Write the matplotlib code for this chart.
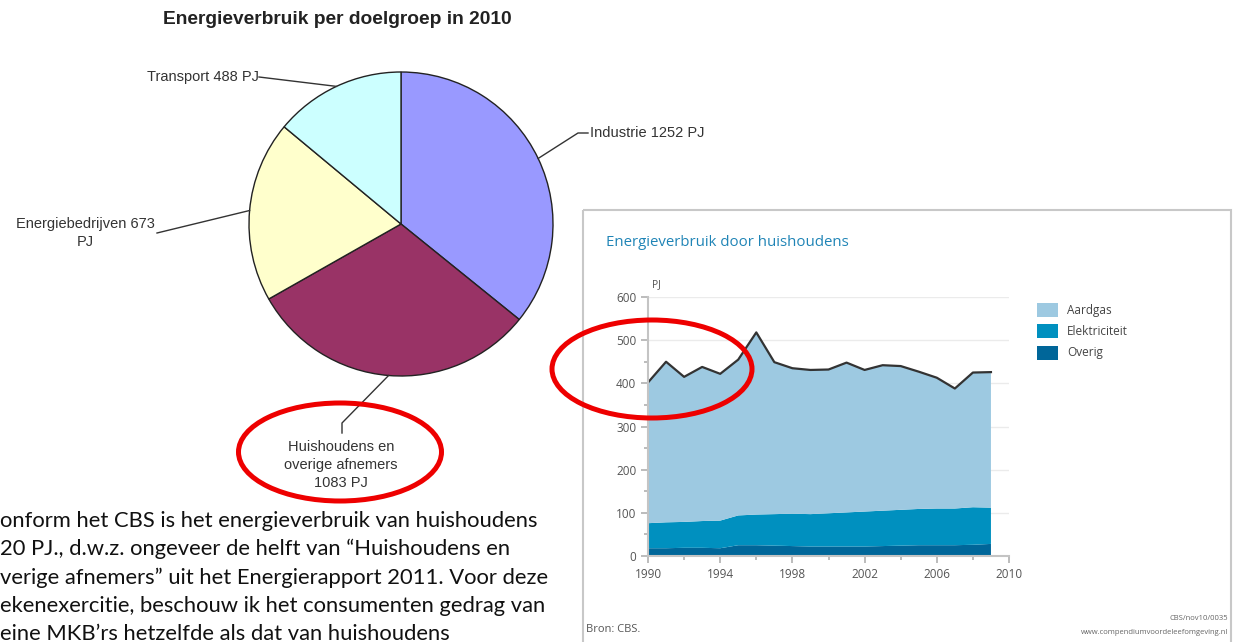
import numpy as np
import matplotlib
matplotlib.use("Agg")
import matplotlib.pyplot as plt
from matplotlib.patches import Ellipse, Rectangle

# --- pie data: energy use per target group, 2010 (PJ)
groepen = ["Industrie", "Huishoudens en\noverige afnemers", "Energiebedrijven", "Transport"]
pj_2010 = [1252, 1083, 673, 488]
pie_kleuren = ["#9999FF", "#993366", "#FFFFCC", "#CCFFFF"]

# --- area data: household energy use (PJ)
jaren = np.arange(1990, 2010)
aardgas = [326, 372, 336, 357, 340, 361, 422, 352, 337, 334, 333, 347, 328, 337, 333, 318, 303, 278, 312, 314]
elektriciteit = [58, 60, 60, 62, 64, 69, 71, 73, 75, 75, 77, 79, 81, 82, 83, 84, 85, 85, 87, 84]
overig = [18, 18, 19, 19, 18, 25, 25, 24, 23, 22, 22, 22, 22, 23, 24, 25, 25, 25, 26, 28]
area_kleuren = ["#006699", "#0090BF", "#9DC9E1"]
area_namen = ["Overig", "Elektriciteit", "Aardgas"]

body_regels = [
    "onform het CBS is het energieverbruik van huishoudens",
    "20 PJ., d.w.z. ongeveer de helft van \u201cHuishoudens en",
    "verige afnemers\u201d uit het Energierapport 2011. Voor deze",
    "ekenexercitie, beschouw ik het consumenten gedrag van",
    "eine MKB\u2019rs hetzelfde als dat van huishoudens",
]

W, H = 1235, 642
fig = plt.figure(figsize=(W / 100, H / 100), dpi=100)

# ---------------- pie ----------------
cx, cy, r = 401, 224, 152
ax_pie = fig.add_axes([(cx - r) / W, (H - cy - r) / H, 2 * r / W, 2 * r / H])
wedges, _ = ax_pie.pie(pj_2010, colors=pie_kleuren, startangle=90, counterclock=False,
                       wedgeprops=dict(edgecolor="#222222", linewidth=1.0))
ax_pie.set_xlim(-1, 1)
ax_pie.set_ylim(-1, 1)
ax_pie.set_aspect("equal")
ax_pie.axis("off")


def px2d(x, y):
    return (x - cx) / r, (cy - y) / r


# leader end points (pixel layout) for each wedge
leader_pts = [
    [(578, 133), (588, 133)],
    [(342, 423), (342, 433)],
    [(157, 233)],
    [(259, 77)],
]
for w, pts in zip(wedges, leader_pts):
    mid = np.deg2rad((w.theta1 + w.theta2) / 2)
    xs = [np.cos(mid)] + [px2d(*p)[0] for p in pts]
    ys = [np.sin(mid)] + [px2d(*p)[1] for p in pts]
    ax_pie.plot(xs, ys, color="#333333", lw=1.0, clip_on=False)

# ---------------- area chart ----------------
ax = fig.add_axes([648 / W, (H - 556) / H, 361 / W, 259 / H])
stack = ax.stackplot(jaren, overig, elektriciteit, aardgas, colors=area_kleuren,
                     labels=area_namen, linewidth=0)
totaal = np.array(overig) + np.array(elektriciteit) + np.array(aardgas)
ax.plot(jaren, totaal, color="#333333", lw=1.6)
ax.set_xlim(1990, 2010)
ax.set_ylim(0, 600)
ax.set_xticks(range(1990, 2011, 4))
ax.set_xticks(range(1992, 2010, 4), minor=True)
ax.set_yticks(range(0, 601, 100))
ax.set_yticks(range(50, 600, 100), minor=True)
ax.grid(axis="y", color="#ebebeb", lw=1.0)
ax.set_axisbelow(True)
for s in ["top", "right"]:
    ax.spines[s].set_visible(False)
for s in ["left", "bottom"]:
    ax.spines[s].set_color("#c4c4c4")
    ax.spines[s].set_linewidth(1.5)
ax.tick_params(which="both", colors="#b0b0b0", labelcolor="#555555", labelsize=8.5, width=1.2)
ax.tick_params(which="major", length=5)
ax.tick_params(which="minor", length=3)
for lab in ax.get_xticklabels() + ax.get_yticklabels():
    lab.set_fontfamily("Open Sans")

handles = [stack[2], stack[1], stack[0]]
fig.legend(handles, ["Aardgas", "Elektriciteit", "Overig"], loc="upper left",
           bbox_to_anchor=(1031 / W, 1 - 297 / H), frameon=False, borderpad=0,
           prop={"family": "Open Sans", "size": 8.5}, handlelength=1.8, handleheight=1.45,
           handletextpad=0.75, labelspacing=0.62, labelcolor="#444444")

# ---------------- overlay (pixel coordinates) ----------------
ov = fig.add_axes([0, 0, 1, 1], zorder=10)
ov.set_xlim(0, W)
ov.set_ylim(H, 0)
ov.axis("off")

ov.text(337, 20, "Energieverbruik per doelgroep in 2010", ha="center", va="center",
        fontsize=13.8, fontweight="bold", family="Liberation Sans", color="#222222")
lab_kw = dict(fontsize=10.5, family="Liberation Sans", color="#333333")
ov.text(259, 77, "Transport 488 PJ", ha="right", va="center", **lab_kw)
ov.text(590, 133, "Industrie 1252 PJ", ha="left", va="center", **lab_kw)
ov.text(85, 233, "Energiebedrijven 673\nPJ", ha="center", va="center", multialignment="center",
        linespacing=1.45, **lab_kw)
ov.text(341, 465, groepen[1] + "\n1083 PJ", ha="center", va="center", multialignment="center",
        linespacing=1.4, **lab_kw)

# chart box and texts
ov.add_patch(Rectangle((583, 210), 648, 460, fill=False, edgecolor="#c8c8c8", lw=1.5))
ov.text(606, 243, "Energieverbruik door huishoudens", ha="left", va="center",
        fontsize=10.8, family="Open Sans", color="#1F84B6")
ov.text(652, 285, "PJ", ha="left", va="center", fontsize=7.5, family="Open Sans", color="#555555")
ov.text(586, 630, "Bron: CBS.", ha="left", va="center", fontsize=8, family="Open Sans", color="#555555")
ov.text(1228, 618, "CBS/nov10/0035", ha="right", va="center", fontsize=5.5, family="Open Sans",
        color="#666666")
ov.text(1228, 632, "www.compendiumvoordeleefomgeving.nl", ha="right", va="center", fontsize=5.5,
        family="Open Sans", color="#666666")

# body text
for i, regel in enumerate(body_regels):
    ov.text(0, 527 + i * 28.3, regel, ha="left", va="baseline", fontsize=15.8, family="Lato",
            color="#111111")

# red highlight ellipses
ov.add_patch(Ellipse((340, 452), 203, 98, fill=False, edgecolor="#EE0000", lw=3.6))
ov.add_patch(Ellipse((652, 369), 200, 98, fill=False, edgecolor="#EE0000", lw=3.6))

fig.savefig("out.png", dpi=100, facecolor="white")
